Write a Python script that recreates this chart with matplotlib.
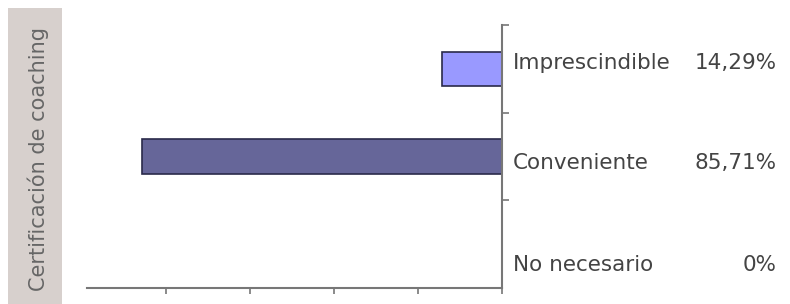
import matplotlib
matplotlib.use("Agg")
import matplotlib.pyplot as plt
from matplotlib.patches import Rectangle

# Data
categories = ["No necesario", "Conveniente", "Imprescindible"]
values = [0.0, 85.71, 14.29]
value_labels = ["0%", "85,71%", "14,29%"]
axis_title = "Certificación de coaching"
xticks = [-100, -80, -60, -40, -20, 0]

W, H, DPI = 790, 304, 100
fig = plt.figure(figsize=(W / DPI, H / DPI), dpi=DPI)
fig.patch.set_facecolor("white")

# gray band on the left
fig.patches.append(Rectangle((8 / W, 0), 54 / W, (H - 8) / H, transform=fig.transFigure,
                             facecolor="#d7d0cd", edgecolor="none", zorder=0))
fig.text(38 / W, 1 - 159 / H, axis_title, rotation=90, ha="center", va="center",
         fontsize=15, color="#666666", family="DejaVu Sans")

left, right = 82, 502
top, bottom = 25, 288
ax = fig.add_axes([left / W, (H - bottom) / H, (right - left) / W, (bottom - top) / H])
ax.set_facecolor("none")

colors = ["#9999ff", "#666699", "#9999ff"]
ypos = list(range(len(categories)))
ax.barh(ypos, [-v for v in values], height=0.39, color=colors, edgecolor="#2a2a4a", linewidth=1.2)

ax.set_xlim(-100, 0)
ax.set_ylim(-0.5, 2.5)
for s in ["left", "top"]:
    ax.spines[s].set_visible(False)
ax.spines["right"].set_color("#777777")
ax.spines["bottom"].set_color("#777777")
ax.spines["right"].set_linewidth(1.5)
ax.spines["bottom"].set_linewidth(1.5)
ax.spines["bottom"].set_bounds(-98.8, 0)

ax.set_xticks(xticks[1:])
ax.set_xticklabels([])
ax.tick_params(axis="x", direction="out", length=4, width=1.2, color="#777777")
ax.yaxis.tick_right()
ax.set_yticks([0.5, 1.5, 2.5])
ax.set_yticklabels([])
ax.tick_params(axis="y", direction="out", length=5, width=1.2, color="#777777")

# text offsets (pixels from category centre, baseline)
offsets = [-27, -13, 0]
for i, (cat, lab) in enumerate(zip(categories, value_labels)):
    ax.annotate(cat, xy=(0, i), xytext=(11, offsets[i]), textcoords="offset pixels",
                ha="left", va="baseline", fontsize=15.5, color="#444444", family="DejaVu Sans")
    ax.annotate(lab, xy=(0, i), xytext=(777 - right, offsets[i]), textcoords="offset pixels",
                ha="right", va="baseline", fontsize=15.5, color="#444444", family="DejaVu Sans")

fig.savefig("out.png", dpi=DPI)
